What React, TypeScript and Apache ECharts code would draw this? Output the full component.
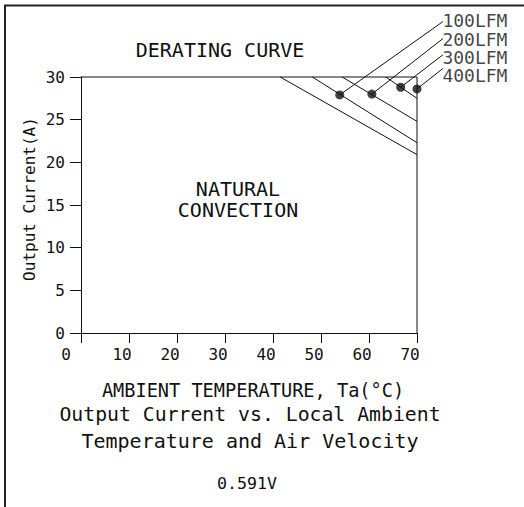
import React, { useEffect, useRef } from "react";
import * as echarts from "echarts";

// ---- data (ambient °C, output current A) ----
const naturalConvection = [[41.5, 30], [70, 20.9]];
const lfm100Curve = [[48.2, 30], [70, 22.3]];
const lfm200Curve = [[54.4, 30], [70, 24.8]];
const lfm300Curve = [[63.5, 30], [70, 27.5]];
const ratedCurrentLine = [[0, 30], [70, 30]];
const maxTempLine = [[70, 0], [70, 30]];
const airflowNames = ["100LFM", "200LFM", "300LFM", "400LFM"];
const airflowPoints = [[53.9, 27.9], [60.6, 28.0], [66.6, 28.8], [70, 28.6]];
const leaderEnds = [[75.4, 36.5], [75.4, 34.5], [75.4, 32.6], [75.4, 31.0]];
const labelAnchors = [[75.3, 36.6], [75.3, 34.45], [75.3, 32.3], [75.3, 30.2]];

const MONO = '"DejaVu Sans Mono", monospace';
const INK = "#111";

export default function App() {
  const ref = useRef<HTMLDivElement>(null);
  useEffect(() => {
    document.body.style.margin = "0";
    const chart = echarts.init(ref.current!, null, { renderer: "svg" });
    const lineStyle = { color: INK, width: 1 };
    const plainLine = (data: number[][]) => ({
      type: "line",
      data,
      symbol: "none",
      lineStyle,
      clip: false,
      silent: true,
    });
    const txt = (text: string, x: number, y: number, size: number, rotation = 0) => ({
      type: "text",
      x,
      y,
      rotation,
      style: {
        text,
        fill: INK,
        fontFamily: MONO,
        fontSize: size,
        align: "center",
        verticalAlign: "middle",
      },
    });
    chart.setOption({
      animation: false,
      grid: { left: 81, right: 107, top: 77, bottom: 174 },
      xAxis: {
        type: "value",
        min: 0,
        max: 70,
        interval: 10,
        axisLine: { lineStyle: { color: INK, width: 1 } },
        axisTick: { length: 10, lineStyle: { color: INK } },
        splitLine: { show: false },
        axisLabel: {
          margin: 13,
          color: INK,
          fontFamily: MONO,
          fontSize: 16,
          padding: [0, 14, 0, 0],
          formatter: (v: number) => (v === 0 ? "{z|0}" : String(v)),
          rich: { z: { padding: [0, 16, 0, 0], fontFamily: MONO, fontSize: 16, color: INK } },
        },
      },
      yAxis: {
        type: "value",
        min: 0,
        max: 30,
        interval: 5,
        axisLine: { show: true, lineStyle: { color: INK, width: 1 } },
        axisTick: { show: true, length: 11, lineStyle: { color: INK } },
        splitLine: { show: false },
        axisLabel: { margin: 16, color: INK, fontFamily: MONO, fontSize: 16 },
      },
      series: [
        plainLine(ratedCurrentLine),
        plainLine(maxTempLine),
        plainLine(naturalConvection),
        plainLine(lfm100Curve),
        plainLine(lfm200Curve),
        plainLine(lfm300Curve),
        {
          type: "custom",
          clip: false,
          silent: true,
          data: airflowPoints.map((p, i) => [p[0], p[1], leaderEnds[i][0], leaderEnds[i][1]]),
          renderItem: (_params: any, api: any) => {
            const a = api.coord([api.value(0), api.value(1)]);
            const b = api.coord([api.value(2), api.value(3)]);
            return {
              type: "line",
              shape: { x1: a[0], y1: a[1], x2: b[0], y2: b[1] },
              style: { stroke: INK, lineWidth: 1 },
            };
          },
        },
        {
          type: "scatter",
          data: airflowPoints,
          symbol: "circle",
          symbolSize: 9,
          itemStyle: { color: INK },
          silent: true,
        },
        {
          type: "scatter",
          clip: false,
          symbolSize: 0,
          silent: true,
          data: labelAnchors.map((p, i) => ({ value: p, name: airflowNames[i] })),
          label: {
            show: true,
            position: "right",
            distance: 0,
            formatter: "{b}",
            color: INK,
            fontFamily: MONO,
            fontSize: 18,
            lineHeight: 17,
          },
        },
      ],
      graphic: [
        {
          type: "polyline",
          shape: { points: [[5, 507], [5, 5.5], [524, 5.5]] },
          style: { stroke: "#222", lineWidth: 2, fill: "none" },
        },
        txt("DERATING CURVE", 220, 50, 20),
        txt("NATURAL", 238, 189, 20),
        txt("CONVECTION", 238, 210, 20),
        txt("Output Current(A)", 29, 199, 16, Math.PI / 2),
        txt("AMBIENT TEMPERATURE, Ta(°C)", 253, 390, 18.6),
        txt("Output Current vs. Local Ambient", 250, 414, 19.8),
        txt("Temperature and Air Velocity", 250, 441, 20),
        txt("0.591V", 247, 483, 16.6),
      ],
    });
    return () => chart.dispose();
  }, []);
  return <div ref={ref} style={{ width: 524, height: 507 }} />;
}
